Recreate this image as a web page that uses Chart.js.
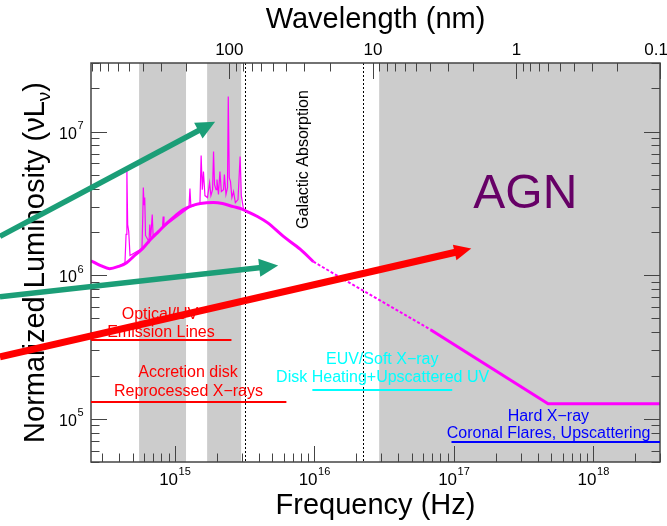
<!DOCTYPE html>
<html>
<head>
<meta charset="utf-8">
<script src="https://cdn.jsdelivr.net/npm/chart.js@4.4.1/dist/chart.umd.min.js"></script>
<style>
body { margin: 0; background: #fff; }
#agn_sed { display: block; }
</style>
</head>
<body>
<canvas id="agn_sed" width="667" height="526"></canvas>
<script>
// ---- data ----
// big blue bump (smooth part of the continuum)
const disk_freq = [2.5e14, 2.93e14, 3.40e14, 3.94e14, 4.50e14, 5.05e14, 5.85e14, 6.67e14, 7.62e14, 8.84e14,
    1.01e15, 1.15e15, 1.33e15, 1.52e15, 1.89e15, 2.19e15, 2.62e15, 2.95e15, 3.30e15, 3.90e15,
    4.60e15, 5.99e15, 7.93e15, 9.82e15];
const disk_lum = [1.26e6, 1.165e6, 1.11e6, 1.15e6, 1.22e6, 1.35e6, 1.53e6, 1.77e6, 2.01e6, 2.32e6,
    2.60e6, 2.86e6, 3.05e6, 3.15e6, 3.20e6, 3.15e6, 3.00e6, 2.91e6, 2.77e6, 2.56e6,
    2.32e6, 1.86e6, 1.51e6, 1.24e6];
// soft X-ray power law and flat hard X-ray tail
const tail_freq = [9.82e15, 6.8e16, 4.73e17, 3.0e18];
const tail_lum = [1.24e6, 4.17e5, 1.27e5, 1.27e5];
const dotted_segment = 0; // first tail segment is dotted in the original

// optical/UV emission line spectrum
const line_freq = [3.94e14, 4.38e14, 4.46e14, 4.52e14, 4.58e14, 4.66e14, 4.76e14,
    5.80e14, 5.88e14, 5.93e14, 6.00e14, 6.07e14, 6.15e14, 6.51e14, 6.60e14, 6.70e14, 6.87e14, 6.97e14,
    8.14e14, 8.23e14, 8.34e14, 1.26e15, 1.28e15, 1.30e15,
    1.51e15, 1.54e15, 1.57e15, 1.60e15, 1.64e15, 1.71e15, 1.77e15, 1.81e15, 1.86e15, 1.89e15,
    1.92e15, 1.97e15, 2.00e15, 2.05e15, 2.10e15, 2.15e15, 2.23e15, 2.26e15, 2.32e15, 2.38e15,
    2.41e15, 2.45e15, 2.50e15, 2.56e15, 2.63e15, 2.71e15, 2.83e15, 2.93e15, 2.99e15, 3.10e15, 3.25e15];
const line_lum = [1.15e6, 1.22e6, 1.92e6, 5.44e6, 2.25e6, 2.01e6, 1.37e6,
    1.53e6, 2.64e6, 4.07e6, 3.10e6, 3.47e6, 1.89e6, 1.71e6, 2.25e6, 1.83e6, 2.64e6, 1.89e6,
    2.14e6, 2.56e6, 2.18e6, 2.95e6, 4.01e6, 3.00e6,
    3.15e6, 6.80e6, 3.94e6, 5.26e6, 3.58e6, 3.47e6, 4.41e6, 3.58e6, 3.94e6, 7.25e6,
    4.27e6, 3.94e6, 4.63e6, 3.64e6, 5.26e6, 3.82e6, 3.94e6, 5.02e6, 3.64e6, 4.07e6,
    1.75e7, 4.78e6, 4.48e6, 3.47e6, 3.82e6, 3.20e6, 3.36e6, 6.69e6, 3.58e6, 2.86e6, 2.77e6];

// axes
const freq_range = [2.5e14, 3.0e18];
const wave_range = [0.1, 920];
const lum_range = [5e4, 3e7];
const freq_tick_exps = ['15', '16', '17', '18'];
const lum_tick_exps = ['5', '6', '7'];
const wave_tick_values = [100, 10, 1, 0.1];
const wave_tick_labels = ['100', '10', '1', '0.1'];

// grey bands and absorption edges (Hz)
const band_lo = [5.53e14, 1.70e15, 2.91e16];
const band_hi = [1.20e15, 2.98e15, 3.0e18];
const edge_freq = [3.18e15, 2.23e16];

// region captions: text, anchor frequency, anchor luminosity
const caption_text = ['Optical/UV', 'Emission Lines', 'Accretion disk', 'Reprocessed X\u2212rays',
    'EUV/Soft X\u2212ray', 'Disk Heating+Upscattered UV', 'Hard X\u2212ray', 'Coronal Flares, Upscattering'];
const caption_freq = [7.81e14, 7.93e14, 1.24e15, 1.25e15, 3.06e16, 3.08e16, 4.75e17, 4.77e17];
const caption_lum = [5.31e5, 3.97e5, 2.09e5, 1.54e5, 2.58e5, 1.93e5, 1.03e5, 7.86e4];

// underlines below the captions
const rule_lo = [2.5e14, 2.5e14, 9.66e15, 9.6e16];
const rule_hi = [2.54e15, 6.29e15, 9.72e16, 3.0e18];
const rule_lum = [3.55e5, 1.31e5, 1.59e5, 6.84e4];

// arrows (start and tip)
const arrow_from_freq = [5.56e13, 5.56e13, 5.56e13];
const arrow_from_lum = [1.86e6, 7.08e5, 2.70e5];
const arrow_to_freq = [1.94e15, 5.49e15, 1.33e17];
const arrow_to_lum = [1.17e7, 1.165e6, 1.53e6];

const agn_anchor = [3.25e17, 3.64e6];
const galactic_anchor = [8.29e15, 6.38e6];

// ---- styles ----
const FONT = '"Liberation Sans", Arial, Helvetica, sans-serif';
const MAGENTA = '#ff00ff';
const caption_colors = ['#ff0000', '#ff0000', '#ff0000', '#ff0000', '#00ffff', '#00ffff', '#0000ff', '#0000ff'];
const rule_colors = ['#ff0000', '#ff0000', '#00ffff', '#0000ff'];
const arrow_colors = ['#1b9e77', '#1b9e77', '#ff0000'];
const arrow_widths = [5.5, 5.5, 7];
const AXIS_COLOR = '#444';

function px(chart, nu) {
    return chart.scales.x.getPixelForValue(nu);
}

function py(chart, lum) {
    return chart.scales.y.getPixelForValue(lum);
}

function tick_list(scale) {
    let out = [];
    scale.ticks.forEach(t => {
        let e = Math.floor(Math.log10(t.value) + 1e-9);
        let m = t.value / Math.pow(10, e);
        let r = Math.round(m);
        if (Math.abs(m - r) > 1e-6 || r < 1 || r > 9) return;
        out.push({pos: scale.getPixelForValue(t.value), major: r === 1});
    });
    return out;
}

function draw_power(ctx, exp, x, y, align, size) {
    ctx.font = size + 'px ' + FONT;
    let w10 = ctx.measureText('10').width;
    ctx.font = Math.round(size * 0.66) + 'px ' + FONT;
    let we = ctx.measureText(exp).width;
    let w = w10 + we + 0.5;
    let sx = align === 'right' ? x - w : x - w / 2;
    ctx.textAlign = 'left';
    ctx.textBaseline = 'alphabetic';
    ctx.font = size + 'px ' + FONT;
    ctx.fillText('10', sx, y);
    ctx.font = Math.round(size * 0.66) + 'px ' + FONT;
    ctx.fillText(exp, sx + w10 + 0.5, y - size * 0.58);
}

const backdrop_plugin = {
    id: 'backdrop',
    beforeDatasetsDraw(chart) {
        let ctx = chart.ctx;
        let a = chart.chartArea;
        ctx.save();
        ctx.beginPath();
        ctx.rect(a.left, a.top, a.width, a.height);
        ctx.clip();
        ctx.fillStyle = '#cccccc';
        for (let i = 0; i < band_lo.length; i++) {
            let x0 = px(chart, band_lo[i]);
            let x1 = px(chart, band_hi[i]);
            ctx.fillRect(x0, a.top, x1 - x0, a.height);
        }
        ctx.strokeStyle = '#000';
        ctx.lineWidth = 1;
        ctx.setLineDash([2, 2]);
        edge_freq.forEach(f => {
            let x = Math.round(px(chart, f)) + 0.5;
            ctx.beginPath();
            ctx.moveTo(x, a.top);
            ctx.lineTo(x, a.bottom);
            ctx.stroke();
        });
        ctx.setLineDash([]);
        ctx.restore();
    }
};

const frame_plugin = {
    id: 'frame',
    afterDatasetsDraw(chart) {
        let ctx = chart.ctx;
        let a = chart.chartArea;
        ctx.save();

        // ticks, all pointing inwards
        ctx.strokeStyle = AXIS_COLOR;
        ctx.lineWidth = 1;
        tick_list(chart.scales.x).forEach(t => {
            let x = Math.round(t.pos) + 0.5;
            let len = t.major ? 16 : 8.5;
            ctx.beginPath();
            ctx.moveTo(x, a.bottom);
            ctx.lineTo(x, a.bottom - len);
            ctx.stroke();
        });
        tick_list(chart.scales.x2).forEach(t => {
            let x = Math.round(t.pos) + 0.5;
            let len = t.major ? 16 : 8.5;
            ctx.beginPath();
            ctx.moveTo(x, a.top);
            ctx.lineTo(x, a.top + len);
            ctx.stroke();
        });
        tick_list(chart.scales.y).forEach(t => {
            let y = Math.round(t.pos) + 0.5;
            let len = t.major ? 16 : 8.5;
            ctx.beginPath();
            ctx.moveTo(a.left, y);
            ctx.lineTo(a.left + len, y);
            ctx.moveTo(a.right, y);
            ctx.lineTo(a.right - len, y);
            ctx.stroke();
        });
        ctx.lineWidth = 1.5;
        ctx.strokeRect(a.left, a.top, a.width, a.height);

        // tick labels
        ctx.fillStyle = '#000';
        freq_tick_exps.forEach(e => {
            draw_power(ctx, e, px(chart, Math.pow(10, +e)), a.bottom + 23, 'center', 17);
        });
        lum_tick_exps.forEach(e => {
            draw_power(ctx, e, a.left - 7.5, py(chart, Math.pow(10, +e)) + 7, 'right', 16);
        });
        ctx.font = '17px ' + FONT;
        ctx.textAlign = 'center';
        ctx.textBaseline = 'alphabetic';
        wave_tick_values.forEach((v, i) => {
            let w = ctx.measureText(wave_tick_labels[i]).width;
            let x = Math.min(chart.scales.x2.getPixelForValue(v), chart.width - w / 2 + 1);
            ctx.fillText(wave_tick_labels[i], x, a.top - 8);
        });

        // captions and their underlines
        ctx.font = '16px ' + FONT;
        ctx.textBaseline = 'middle';
        caption_text.forEach((txt, i) => {
            ctx.fillStyle = caption_colors[i];
            ctx.fillText(txt, px(chart, caption_freq[i]), py(chart, caption_lum[i]));
        });
        ctx.lineWidth = 2;
        rule_lum.forEach((lum, i) => {
            let y = Math.round(py(chart, lum));
            ctx.strokeStyle = rule_colors[i];
            ctx.beginPath();
            ctx.moveTo(px(chart, rule_lo[i]), y);
            ctx.lineTo(px(chart, rule_hi[i]), y);
            ctx.stroke();
        });

        ctx.fillStyle = '#660066';
        ctx.font = '48px ' + FONT;
        ctx.fillText('AGN', px(chart, agn_anchor[0]), py(chart, agn_anchor[1]));

        ctx.save();
        ctx.translate(px(chart, galactic_anchor[0]), py(chart, galactic_anchor[1]));
        ctx.rotate(-Math.PI / 2);
        ctx.fillStyle = '#000';
        ctx.font = '16px ' + FONT;
        ctx.fillText('Galactic Absorption', 0, 0);
        ctx.restore();

        ctx.restore();
    },
    afterDraw(chart) {
        let ctx = chart.ctx;
        ctx.save();

        // y axis title with subscript nu
        ctx.translate(43.5, 262.5);
        ctx.rotate(-Math.PI / 2);
        ctx.fillStyle = '#000';
        ctx.textBaseline = 'alphabetic';
        ctx.textAlign = 'left';
        let main = 'Normalized Luminosity (\u03BDL';
        ctx.font = '29px ' + FONT;
        let w1 = ctx.measureText(main).width;
        let w3 = ctx.measureText(')').width;
        ctx.font = '19px ' + FONT;
        let ws = ctx.measureText('\u03BD').width;
        let sx = -(w1 + ws + w3) / 2;
        ctx.font = '29px ' + FONT;
        ctx.fillText(main, sx, 0);
        ctx.fillText(')', sx + w1 + ws, 0);
        ctx.font = '19px ' + FONT;
        ctx.fillText('\u03BD', sx + w1, 6);
        ctx.restore();

        // arrows, drawn over everything
        ctx.save();
        for (let i = 0; i < arrow_colors.length; i++) {
            let x0 = px(chart, arrow_from_freq[i]);
            let y0 = py(chart, arrow_from_lum[i]);
            let x1 = px(chart, arrow_to_freq[i]);
            let y1 = py(chart, arrow_to_lum[i]);
            let ang = Math.atan2(y1 - y0, x1 - x0);
            let head_len = i === 2 ? 17 : 19;
            let head_half = i === 2 ? 8 : 9;
            let bx = x1 - head_len * Math.cos(ang);
            let by = y1 - head_len * Math.sin(ang);
            ctx.strokeStyle = arrow_colors[i];
            ctx.fillStyle = arrow_colors[i];
            ctx.lineWidth = arrow_widths[i];
            ctx.beginPath();
            ctx.moveTo(x0, y0);
            ctx.lineTo(bx + 2 * Math.cos(ang), by + 2 * Math.sin(ang));
            ctx.stroke();
            ctx.beginPath();
            ctx.moveTo(x1, y1);
            ctx.lineTo(bx - head_half * Math.sin(ang), by + head_half * Math.cos(ang));
            ctx.lineTo(bx + head_half * Math.sin(ang), by - head_half * Math.cos(ang));
            ctx.closePath();
            ctx.fill();
        }
        ctx.restore();
    }
};

let sed_canvas = document.getElementById('agn_sed');

const sed_config = {
    type: 'line',
    data: {
        datasets: [{
            label: 'disk',
            data: disk_freq.map((f, i) => ({x: f, y: disk_lum[i]})),
            borderColor: MAGENTA,
            borderWidth: 3,
            pointRadius: 0,
            cubicInterpolationMode: 'monotone'
        }, {
            label: 'tail',
            data: tail_freq.map((f, i) => ({x: f, y: tail_lum[i]})),
            borderColor: MAGENTA,
            borderWidth: 3,
            pointRadius: 0,
            tension: 0,
            segment: {
                borderDash: c => c.p0DataIndex === dotted_segment ? [3, 2] : undefined,
                borderWidth: c => c.p0DataIndex === dotted_segment ? 2 : undefined
            }
        }, {
            label: 'emission lines',
            data: line_freq.map((f, i) => ({x: f, y: line_lum[i]})),
            borderColor: MAGENTA,
            borderWidth: 1.2,
            pointRadius: 0,
            tension: 0
        }]
    },
    options: {
        responsive: false,
        animation: false,
        events: [],
        layout: { padding: { right: 7 } },
        plugins: { legend: { display: false }, tooltip: { enabled: false } },
        scales: {
            x: {
                type: 'logarithmic',
                position: 'bottom',
                min: freq_range[0],
                max: freq_range[1],
                grid: { display: false, drawTicks: false },
                border: { display: false },
                ticks: { display: false },
                title: {
                    display: true,
                    text: 'Frequency (Hz)',
                    color: '#000',
                    font: { family: FONT, size: 29 },
                    padding: { top: 0, bottom: 3 }
                },
                afterFit: s => { s.height = 64; }
            },
            x2: {
                type: 'logarithmic',
                position: 'top',
                reverse: true,
                min: wave_range[0],
                max: wave_range[1],
                grid: { display: false, drawTicks: false },
                border: { display: false },
                ticks: { display: false },
                title: {
                    display: true,
                    text: 'Wavelength (nm)',
                    color: '#000',
                    font: { family: FONT, size: 29 },
                    padding: { top: 3, bottom: 0 }
                },
                afterFit: s => { s.height = 63; }
            },
            y: {
                type: 'logarithmic',
                min: lum_range[0],
                max: lum_range[1],
                grid: { display: false, drawTicks: false },
                border: { display: false },
                ticks: { display: false },
                afterFit: s => { s.width = 91; }
            }
        }
    },
    plugins: [backdrop_plugin, frame_plugin]
};

let sed_chart = new Chart(sed_canvas, sed_config);
</script>
</body>
</html>
